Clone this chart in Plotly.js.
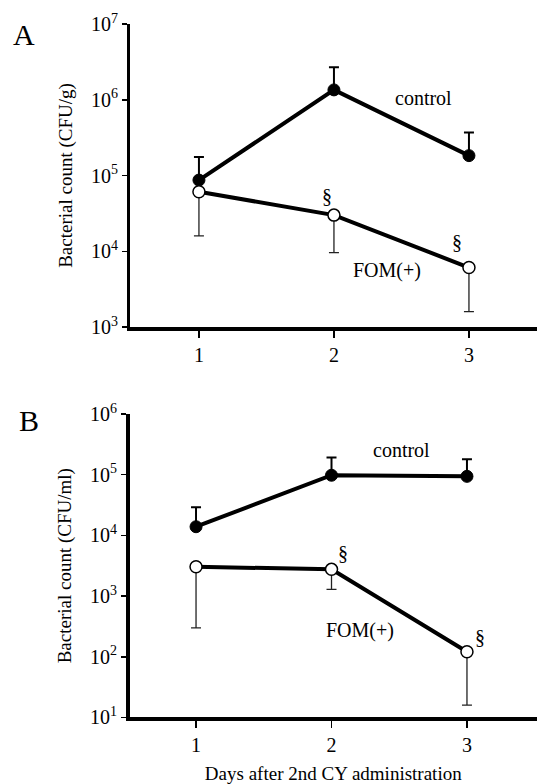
<!DOCTYPE html>
<html>
<head>
<meta charset="utf-8">
<script src="https://cdn.plot.ly/plotly-3.0.1.min.js"></script>
<style>html,body{margin:0;padding:0;background:#fff;}#chart{width:537px;height:784px;}</style>
</head>
<body>
<div id="chart"></div>
<script>
// ---- data ----
const days = [1, 2, 3];
const dayTickLabels = ['1', '2', '3'];

// Panel A (CFU/g)
const aControl = [8.7e4, 1.35e6, 1.83e5];
const aControlUpper = [1.75e5, 2.68e6, 3.7e5];
const aFom = [6.1e4, 3.0e4, 6.1e3];
const aFomLower = [1.6e4, 9.6e3, 1.6e3];
const aTickVals = [1e3, 1e4, 1e5, 1e6, 1e7];
const aTickText = ['10<sup>3</sup>', '10<sup>4</sup>', '10<sup>5</sup>', '10<sup>6</sup>', '10<sup>7</sup>'];

// Panel B (CFU/ml)
const bControl = [1.39e4, 9.8e4, 9.4e4];
const bControlUpper = [2.9e4, 1.93e5, 1.8e5];
const bFom = [3.05e3, 2.76e3, 121];
const bFomLower = [300, 1.29e3, 16];
const bTickVals = [1e1, 1e2, 1e3, 1e4, 1e5, 1e6];
const bTickText = ['10<sup>1</sup>', '10<sup>2</sup>', '10<sup>3</sup>', '10<sup>4</sup>', '10<sup>5</sup>', '10<sup>6</sup>'];

const xTitle = 'Days after 2nd CY administration';
const aYTitle = 'Bacterial count (CFU/g)';
const bYTitle = 'Bacterial count (CFU/ml)';
const controlLabel = 'control';
const fomLabel = 'FOM(+)';
const sigMark = '§';

// ---- helpers ----
const FONT = 'Liberation Serif';
function diff(a, b) { return a.map((v, i) => Math.abs(v - b[i])); }

function controlTrace(y, upper, xa, ya) {
  return {
    x: days, y: y, xaxis: xa, yaxis: ya, type: 'scatter', mode: 'lines+markers',
    line: {color: '#000', width: 4},
    marker: {color: '#000', size: 12, line: {color: '#000', width: 1}},
    error_y: {type: 'data', symmetric: false, array: diff(upper, y), arrayminus: y.map(() => 0),
      color: '#000', thickness: 2, width: 5},
    showlegend: false, hoverinfo: 'x+y'
  };
}
function fomTrace(y, lower, xa, ya) {
  return {
    x: days, y: y, xaxis: xa, yaxis: ya, type: 'scatter', mode: 'lines+markers',
    line: {color: '#000', width: 4},
    marker: {color: '#fff', size: 12, line: {color: '#000', width: 1.5}},
    error_y: {type: 'data', symmetric: false, array: y.map(() => 0), arrayminus: diff(y, lower),
      color: '#222', thickness: 1.3, width: 5},
    showlegend: false, hoverinfo: 'x+y'
  };
}

const data = [
  controlTrace(aControl, aControlUpper, 'x', 'y'),
  fomTrace(aFom, aFomLower, 'x', 'y'),
  controlTrace(bControl, bControlUpper, 'x2', 'y2'),
  fomTrace(bFom, bFomLower, 'x2', 'y2')
];

const tickFont = {family: FONT, size: 20, color: '#000'};
const titleFont = {family: FONT, size: 19, color: '#000'};

function xaxisDef(domain, range, anchor, title) {
  const ax = {
    domain: domain, range: range, anchor: anchor,
    tickvals: days, ticktext: dayTickLabels, ticks: 'outside', ticklen: 7, tickwidth: 1.5, tickcolor: '#000',
    showline: true, linewidth: 3.5, linecolor: '#000', showgrid: false, zeroline: false,
    tickfont: tickFont, automargin: false, ticklabelstandoff: 0
  };
  if (title) ax.title = {text: title, font: titleFont, standoff: 20};
  return ax;
}
function yaxisDef(domain, range, anchor, vals, text, title) {
  return {
    domain: domain, type: 'log', range: range, anchor: anchor,
    tickvals: vals, ticktext: text, ticks: 'outside', ticklen: 5, tickwidth: 1.5, tickcolor: '#000',
    showline: true, linewidth: 3.5, linecolor: '#000', showgrid: false, zeroline: false,
    tickfont: tickFont, automargin: false,
    title: {text: title, font: titleFont, standoff: 14}
  };
}

function ann(text, x, y, xref, yref, size) {
  return {text: text, x: x, y: y, xref: xref, yref: yref, showarrow: false,
    font: {family: FONT, size: size || 20, color: '#000'}, xanchor: 'center', yanchor: 'middle'};
}

const layout = {
  width: 537, height: 784,
  margin: {l: 0, r: 0, t: 0, b: 12},
  paper_bgcolor: '#fff', plot_bgcolor: '#fff',
  showlegend: false,
  font: {family: FONT, color: '#000'},
  xaxis: xaxisDef([0.243, 1], [0.493, 3.504], 'y', null),
  yaxis: yaxisDef([0.5764, 0.9689], [3, 7], 'x', aTickVals, aTickText, aYTitle),
  xaxis2: xaxisDef([0.2412, 1], [0.509, 3.517], 'y2', xTitle),
  yaxis2: yaxisDef([0.0706, 0.4637], [1, 6], 'x2', bTickVals, bTickText, bYTitle),
  annotations: [
    ann('A', 0.044, 0.9547, 'paper', 'paper', 30),
    ann('B', 0.0536, 0.4547, 'paper', 'paper', 30),
    ann(controlLabel, 2.66, 6.02, 'x', 'y'),
    ann(fomLabel, 2.39, 3.74, 'x', 'y'),
    ann(sigMark, 1.95, 4.73, 'x', 'y'),
    ann(sigMark, 2.91, 4.12, 'x', 'y'),
    ann(controlLabel, 2.515, 5.41, 'x2', 'y2'),
    ann(fomLabel, 2.21, 2.44, 'x2', 'y2'),
    ann(sigMark, 2.085, 3.71, 'x2', 'y2'),
    ann(sigMark, 3.096, 2.33, 'x2', 'y2')
  ]
};

Plotly.newPlot('chart', data, layout, {displayModeBar: false, staticPlot: true});
</script>
</body>
</html>
